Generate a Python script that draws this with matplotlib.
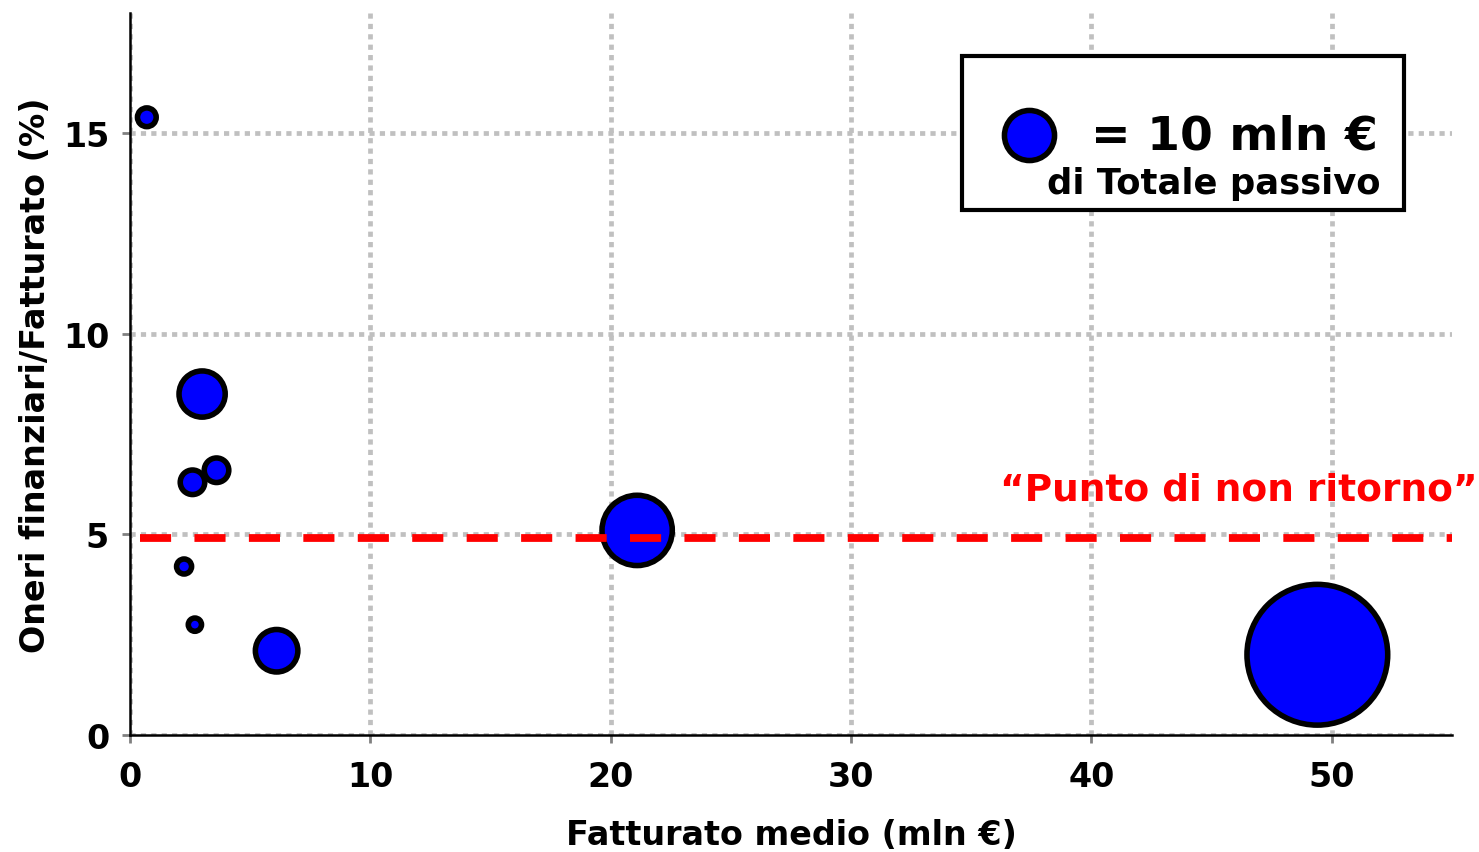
import matplotlib.pyplot as plt
from matplotlib.patches import Rectangle

# bubble data: average revenue, financial charges / revenue, total liabilities
fatturato = [0.7, 3.0, 2.6, 3.6, 2.25, 2.7, 6.1, 21.1, 49.4]
oneri_pct = [15.4, 8.5, 6.3, 6.6, 4.2, 2.75, 2.1, 5.1, 2.0]
passivo = [1.4, 8.5, 2.4, 2.4, 0.9, 0.7, 7.2, 19.7, 79.0]

soglia = 4.9          # "punto di non ritorno"
ref_passivo = 10      # legend bubble value (mln €)

x_ticks = [0, 10, 20, 30, 40, 50]
y_ticks = [0, 5, 10, 15]

s_per_mln = 130.0     # marker area (pt^2) per mln €

plt.rcParams['font.family'] = 'DejaVu Sans'
plt.rcParams['font.weight'] = 'bold'

fig = plt.figure(figsize=(14.79, 8.53), dpi=100)
ax = fig.add_axes([0.0879, 0.1372, 0.8938, 0.8464])

ax.set_xlim(0, 55)
ax.set_ylim(0, 18)
ax.set_xticks(x_ticks)
ax.set_yticks(y_ticks)
ax.tick_params(colors='#808080', length=6, width=2, pad=9, labelsize=24,
               labelcolor='black')
ax.tick_params(axis='x', pad=12)
for lab in ax.get_xticklabels() + ax.get_yticklabels():
    lab.set_fontweight('bold')

ax.set_axisbelow(True)
ax.grid(True, color='#c0c0c0', linewidth=3.4, linestyle=(0, (1.1, 1.1)),
        dash_capstyle='butt')
for side in ['top', 'right']:
    ax.spines[side].set_visible(False)
for side in ['left', 'bottom']:
    ax.spines[side].set_linewidth(1.8)
    ax.spines[side].set_color('black')

ax.scatter(fatturato, oneri_pct, s=[v * s_per_mln for v in passivo],
           color='#0000ff', edgecolor='black', linewidth=4, zorder=3,
           clip_on=False)

ax.hlines(soglia, 0.4, 55, color='red', linewidth=5.6,
          linestyle=(0, (4, 3)), zorder=4)
ax.text(56.05, 5.88, '\u201cPunto di non ritorno\u201d', color='red',
        fontsize=27, fontweight='bold', ha='right', va='baseline',
        clip_on=False)

# legend box for bubble size
ax.add_patch(Rectangle((0.6293, 0.7271), 0.3344, 0.2133, transform=ax.transAxes,
                       facecolor='white', edgecolor='black', linewidth=3,
                       zorder=5))
ax.scatter([0.680], [0.831], s=ref_passivo * s_per_mln, color='#0000ff',
           edgecolor='black', linewidth=4, transform=ax.transAxes, zorder=6,
           clip_on=False)
ax.text(0.944, 0.812, '= %d mln \u20ac' % ref_passivo, transform=ax.transAxes,
        fontsize=34, fontweight='bold', ha='right', va='baseline', zorder=6)
ax.text(0.9463, 0.750, 'di Totale passivo', transform=ax.transAxes,
        fontsize=25.5, fontweight='bold', ha='right', va='baseline', zorder=6)

ax.set_xlabel('Fatturato medio (mln \u20ac)', fontsize=24, fontweight='bold',
              labelpad=18)
ax.set_ylabel('Oneri finanziari/Fatturato (%)', fontsize=24, fontweight='bold',
              labelpad=8)

fig.savefig('out.png', dpi=100)
